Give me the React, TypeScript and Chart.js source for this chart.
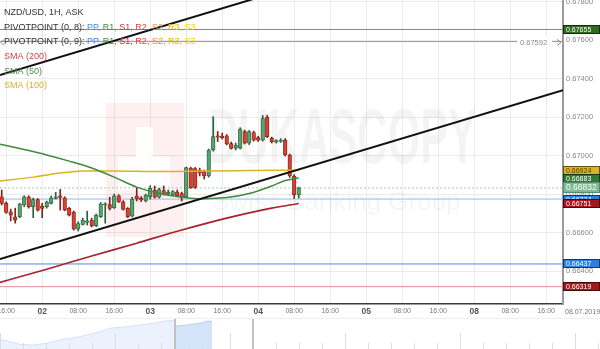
import React, { useEffect, useRef } from "react";
import { Chart, registerables } from "chart.js";

Chart.register(...registerables);

const FONT = "'Liberation Sans', Arial, sans-serif";

// NZD/USD 1H ASK. Hour index counted from 01.07.2019 00:00 (weekend removed)
const FIRST_HOUR = 15;
const OPEN = [0.66786,0.66752,0.66708,0.66682,0.66682,0.66743,0.66786,0.66734,0.66772,0.66738,
0.66734,0.66752,0.66777,0.66791,0.66781,0.66726,0.66707,0.66618,0.66642,0.66653,
0.66665,0.66635,0.66682,0.66743,0.66745,0.66729,0.66791,0.66760,0.66726,0.66686,
0.66790,0.66781,0.66764,0.66786,0.66821,0.66784,0.66818,0.66800,0.66797,0.66810,
0.66803,0.66786,0.66935,0.66933,0.66925,0.66916,0.66894,0.67029,0.67103,0.67101,
0.67103,0.67062,0.67039,0.67039,0.67124,0.67064,0.67120,0.67093,0.67080,0.67200,
0.67089,0.67070,0.67073,0.67080,0.67003,0.66894,0.66795];
const HIGH = [0.66821,0.66760,0.66722,0.66727,0.66752,0.66791,0.66791,0.66779,0.66777,0.66752,
0.66764,0.66790,0.66809,0.66824,0.66786,0.66731,0.66712,0.66656,0.66675,0.66711,
0.66675,0.66696,0.66756,0.66755,0.66784,0.66800,0.66797,0.66766,0.66730,0.66784,
0.66834,0.66787,0.66800,0.66844,0.66842,0.66831,0.66842,0.66821,0.66818,0.66821,
0.66810,0.66940,0.66940,0.66938,0.66935,0.66925,0.67034,0.67202,0.67125,0.67117,
0.67109,0.67070,0.67065,0.67145,0.67132,0.67130,0.67127,0.67101,0.67208,0.67210,
0.67096,0.67083,0.67088,0.67088,0.67008,0.66901,0.66836];
const LOW = [0.66743,0.66700,0.66660,0.66649,0.66677,0.66734,0.66727,0.66677,0.66711,0.66677,
0.66727,0.66748,0.66774,0.66717,0.66713,0.66686,0.66613,0.66608,0.66639,0.66639,
0.66629,0.66631,0.66678,0.66649,0.66717,0.66725,0.66756,0.66717,0.66678,0.66681,
0.66764,0.66761,0.66759,0.66774,0.66779,0.66779,0.66795,0.66795,0.66792,0.66787,
0.66764,0.66782,0.66829,0.66829,0.66894,0.66878,0.66888,0.67023,0.67073,0.67086,
0.67055,0.67034,0.67029,0.67034,0.67060,0.67057,0.67075,0.67073,0.67075,0.67093,
0.67065,0.67065,0.67068,0.66997,0.66886,0.66777,0.66779];
const CLOSE = [0.66752,0.66705,0.66691,0.66665,0.66748,0.66786,0.66734,0.66772,0.66717,0.66726,
0.66757,0.66781,0.66786,0.66783,0.66717,0.66691,0.66618,0.66647,0.66665,0.66661,
0.66635,0.66691,0.66749,0.66749,0.66725,0.66791,0.66760,0.66720,0.66682,0.66774,
0.66776,0.66769,0.66795,0.66830,0.66784,0.66823,0.66798,0.66810,0.66813,0.66791,
0.66781,0.66937,0.66833,0.66834,0.66909,0.66894,0.67029,0.67098,0.67096,0.67093,
0.67060,0.67037,0.67055,0.67138,0.67064,0.67124,0.67080,0.67080,0.67192,0.67098,
0.67072,0.67078,0.67080,0.67003,0.66894,0.66795,0.66832];

// moving averages (hour index, value)
const SMA50_T = [14, 20, 25, 30, 35, 40, 45, 50, 55, 60, 65, 70, 75, 78, 81];
const SMA50 = [0.67062,0.67031,0.67003,0.66971,0.66935,0.66888,0.66836,0.66803,0.66784,0.66776,0.66782,0.66803,0.66842,0.66870,0.66883];
const SMA100_T = [14, 22, 28, 33, 40, 50, 60, 70, 81];
const SMA100 = [0.66866,0.66888,0.66909,0.66920,0.66920,0.66917,0.66920,0.66922,0.66924];
const SMA200_T = [14, 25, 35, 45, 55, 65, 75, 81];
const SMA200 = [0.66337,0.66410,0.66478,0.66545,0.66613,0.66675,0.66727,0.66751];

// trend channel
const TREND_LOWER_T = [14.62, 139.73];
const TREND_LOWER = [0.66462, 0.67339];
const TREND_UPPER_T = [14.62, 81.3];
const TREND_UPPER = [0.67418, 0.67886];

// horizontal levels
const LEVELS = [0.67655, 0.67592, 0.66832, 0.66774, 0.66437, 0.66319];
const LEVEL_COLORS = ["#5ea544", "#9a9a9a", "#9fd2ac", "#93b8f4", "#4f8ae0", "#e28c8c"];
const CURRENT_PRICE = 0.66832;
const MARKED_LEVEL = 0.67592;

// right-axis tags
const TAG_VALUES = [0.67655, 0.66924, 0.66883, 0.66774, 0.66751, 0.66832, 0.66437, 0.66319];
const TAG_BG = ["#2f6b1f", "#d9b526", "#2e7b34", "#2e7de0", "#a3171d", "#7dba93", "#2e7de0", "#a3171d"];
const TAG_FG = ["#ffffff", "#4a3b00", "#ffffff", "#ffffff", "#ffffff", "#ffffff", "#ffffff", "#ffffff"];

const Y_TICKS = [0.664, 0.666, 0.668, 0.67, 0.672, 0.674, 0.676, 0.678];
const X_TICKS = [16, 24, 32, 40, 48, 56, 64, 72, 80, 88, 96, 104, 112, 120, 128, 136];
const X_LABELS = ["16:00", "02", "08:00", "16:00", "03", "08:00", "16:00", "04", "08:00", "16:00", "05", "08:00", "16:00", "08", "08:00", "16:00"];
const DATE_LABEL = "08.07.2019";

const X_MIN = 14.62;
const X_MAX = 139.73;
const Y_MIN = 0.66229;
const Y_MAX = 0.67808;

// navigator
const NAV_T = [0, 10, 20, 33, 47, 60, 80, 100, 110, 133, 153, 167, 174];
const NAV_LEVEL = [9.7, 7.3, 4.7, 4, 5.7, 9, 12.3, 17.3, 20.7, 23, 25.7, 28.3, 28.3];
const NAV_SEL_T = [176, 187, 200, 208, 212];
const NAV_SEL_LEVEL = [23, 24, 25.7, 28, 27.3];
const NAV_HANDLES = [175, 253];

const LEGEND_ROWS: { t: string; c: string }[][] = [
  [{ t: "NZD/USD, 1H, ASK", c: "#333" }],
  [
    { t: "PIVOTPOINT (0, 8): ", c: "#333" },
    { t: "PP, ", c: "#3d8af7" }, { t: "R1, ", c: "#3f8f3f" }, { t: "S1, ", c: "#c2343a" },
    { t: "R2, ", c: "#e8403a" }, { t: "S2, ", c: "#f08a2c" }, { t: "R3, ", c: "#e8b70e" }, { t: "S3", c: "#f2d600" },
  ],
  [
    { t: "PIVOTPOINT (0, 9): ", c: "#333" },
    { t: "PP, ", c: "#3d8af7" }, { t: "R1, ", c: "#3f8f3f" }, { t: "S1, ", c: "#c2343a" },
    { t: "R2, ", c: "#e8403a" }, { t: "S2, ", c: "#f08a2c" }, { t: "R3, ", c: "#e8b70e" }, { t: "S3", c: "#f2d600" },
  ],
  [{ t: "SMA (200)", c: "#c44a4f" }],
  [{ t: "SMA (50)", c: "#4b8b48" }],
  [{ t: "SMA (100)", c: "#d7b227" }],
];

const pts = (t: number[], v: number[]) => t.map((x, i) => ({ x, y: v[i] }));

const watermarkPlugin = {
  id: "watermark",
  beforeDatasetsDraw(chart: any) {
    const ctx = chart.ctx;
    ctx.save();
    ctx.fillStyle = "rgba(235,60,60,0.075)";
    ctx.fillRect(106, 103, 78, 134);
    ctx.fillStyle = "rgba(255,255,255,0.9)";
    ctx.fillRect(118, 157, 52, 33);
    ctx.fillRect(136, 127, 17, 30);
    ctx.fillStyle = "rgba(0,0,0,0.045)";
    ctx.font = `bold 42px ${FONT}`;
    ctx.textBaseline = "alphabetic";
    ctx.textAlign = "left";
    ctx.save();
    ctx.translate(208, 163);
    ctx.scale(1, 1.85);
    ctx.fillText("DUKASCOPY", 0, 0);
    ctx.restore();
    ctx.fillStyle = "rgba(0,0,0,0.04)";
    ctx.font = `26px ${FONT}`;
    ctx.fillText("Swiss Banking Group", 212, 210);
    ctx.restore();
  },
};

const overlayPlugin = {
  id: "overlay",
  afterDraw(chart: any) {
    const ctx = chart.ctx;
    const ys = chart.scales.y;
    const area = chart.chartArea;
    ctx.save();
    // marked level label
    const my = Math.round(ys.getPixelForValue(MARKED_LEVEL));
    ctx.fillStyle = "#ffffff";
    ctx.fillRect(517, my - 5, 35, 10);
    ctx.fillStyle = "#888";
    ctx.font = `7.5px ${FONT}`;
    ctx.textBaseline = "middle";
    ctx.textAlign = "left";
    ctx.fillText(MARKED_LEVEL.toFixed(5), 520, my + 0.5);
    ctx.strokeStyle = "#888";
    ctx.lineWidth = 1;
    ctx.beginPath();
    ctx.moveTo(557, my - 2.5); ctx.lineTo(561, my + 0.5); ctx.lineTo(557, my + 3.5);
    ctx.moveTo(4, my - 2.5); ctx.lineTo(1, my + 0.5); ctx.lineTo(4, my + 3.5);
    ctx.stroke();

    // legend
    ctx.font = `9px ${FONT}`;
    LEGEND_ROWS.forEach((row, r) => {
      let x = 4;
      const y = 12.5 + r * 14.7;
      row.forEach((seg) => {
        ctx.fillStyle = seg.c;
        ctx.fillText(seg.t, x, y);
        x += ctx.measureText(seg.t).width;
      });
    });

    // axis tags
    const w = chart.width - area.right;
    TAG_VALUES.forEach((v, i) => {
      const py = ys.getPixelForValue(v);
      const big = v === CURRENT_PRICE;
      const h = big ? 11 : 9;
      const top = Math.round(py - h / 2);
      ctx.fillStyle = TAG_BG[i];
      ctx.fillRect(area.right, top, w, h);
      ctx.strokeStyle = big ? "rgba(60,110,80,0.6)" : "rgba(0,0,0,0.55)";
      ctx.lineWidth = 1;
      ctx.strokeRect(area.right + 0.5, top + 0.5, w - 1, h - 1);
      ctx.fillStyle = TAG_FG[i];
      ctx.font = big ? `8.5px ${FONT}` : `7px ${FONT}`;
      ctx.fillText(v.toFixed(5), area.right + 3, top + h / 2 + 0.5);
    });

    // date label under the price axis
    ctx.fillStyle = "#777";
    ctx.font = `7px ${FONT}`;
    ctx.fillText(DATE_LABEL, area.right + 2, area.bottom + 8.5);
    ctx.restore();
  },
};

const navPlugin = {
  id: "navdeco",
  afterDatasetsDraw(chart: any) {
    const ctx = chart.ctx;
    const xs = chart.scales.x;
    const h = chart.height;
    ctx.save();
    ctx.strokeStyle = "#efefef";
    ctx.lineWidth = 1;
    ctx.beginPath();
    ctx.moveTo(0, 0.5);
    ctx.lineTo(chart.width, 0.5);
    ctx.stroke();
    ctx.strokeStyle = "#dedede";
    for (let i = 0; i * 23 <= 600; i++) {
      const px = Math.round(xs.getPixelForValue(i * 23)) + 0.5;
      const len = i % 5 === 0 ? 16 : 6;
      ctx.beginPath();
      ctx.moveTo(px, h);
      ctx.lineTo(px, h - len);
      ctx.stroke();
    }
    ctx.strokeStyle = "#c2c2c2";
    ctx.lineWidth = 2;
    NAV_HANDLES.forEach((t) => {
      const px = xs.getPixelForValue(t);
      ctx.beginPath();
      ctx.moveTo(px, 1);
      ctx.lineTo(px, h);
      ctx.stroke();
    });
    ctx.restore();
  },
};

export default function App() {
  const mainRef = useRef<HTMLCanvasElement | null>(null);
  const navRef = useRef<HTMLCanvasElement | null>(null);

  useEffect(() => {
    const idx = OPEN.map((_, i) => FIRST_HOUR + i);
    const up = OPEN.map((o, i) => CLOSE[i] >= o);
    const bodyFill = up.map((u) => (u ? "#55a46c" : "#d8402f"));
    const bodyEdge = up.map((u) => (u ? "#2c5f3e" : "#7e221b"));

    const levelSets = LEVELS.map((v, i) => ({
      type: "line",
      data: [{ x: X_MIN, y: v }, { x: X_MAX, y: v }],
      borderColor: LEVEL_COLORS[i],
      borderWidth: 1,
      borderDash: v === CURRENT_PRICE ? [2, 2] : [],
      pointRadius: 0,
      order: 20,
    }));

    const mainChart = new Chart(mainRef.current as HTMLCanvasElement, {
      type: "bar",
      data: {
        datasets: [
          ...levelSets,
          {
            type: "bar",
            data: idx.map((x, i) => ({ x, y: [LOW[i], HIGH[i]] })),
            backgroundColor: bodyEdge,
            barThickness: 1,
            grouped: false,
            order: 12,
          },
          {
            type: "bar",
            data: idx.map((x, i) => ({ x, y: [OPEN[i], CLOSE[i]] })),
            backgroundColor: bodyFill,
            borderColor: bodyEdge,
            borderWidth: 0.8,
            borderSkipped: false,
            barThickness: 3.6,
            minBarLength: 1,
            grouped: false,
            order: 11,
          },
          {
            type: "line",
            data: pts(SMA200_T, SMA200),
            borderColor: "#a5232b",
            borderWidth: 1.6,
            pointRadius: 0,
            cubicInterpolationMode: "monotone",
            order: 5,
          },
          {
            type: "line",
            data: pts(SMA100_T, SMA100),
            borderColor: "#d9b51c",
            borderWidth: 1.5,
            pointRadius: 0,
            cubicInterpolationMode: "monotone",
            order: 4,
          },
          {
            type: "line",
            data: pts(SMA50_T, SMA50),
            borderColor: "#3d8a40",
            borderWidth: 1.5,
            pointRadius: 0,
            cubicInterpolationMode: "monotone",
            order: 3,
          },
          {
            type: "line",
            data: pts(TREND_LOWER_T, TREND_LOWER),
            borderColor: "#111111",
            borderWidth: 2,
            pointRadius: 0,
            order: 1,
          },
          {
            type: "line",
            data: pts(TREND_UPPER_T, TREND_UPPER),
            borderColor: "#111111",
            borderWidth: 2,
            pointRadius: 0,
            order: 1,
          },
        ] as any,
      },
      options: {
        responsive: false,
        animation: false,
        events: [],
        layout: { padding: 0 },
        plugins: { legend: { display: false }, tooltip: { enabled: false } },
        scales: {
          x: {
            type: "linear",
            min: X_MIN,
            max: X_MAX,
            offset: false,
            afterBuildTicks: (s: any) => {
              s.ticks = X_TICKS.map((v) => ({ value: v }));
            },
            afterFit: (s: any) => {
              s.height = 14;
              s.paddingLeft = 0;
              s.paddingRight = 0;
            },
            ticks: {
              autoSkip: false,
              maxRotation: 0,
              padding: 3,
              color: (c: any) => (X_LABELS[X_TICKS.indexOf(c.tick?.value)]?.length === 2 ? "#555" : "#7a7a7a"),
              font: (c: any) =>
                X_LABELS[X_TICKS.indexOf(c.tick?.value)]?.length === 2
                  ? { family: FONT, size: 8.5, weight: "bold" }
                  : { family: FONT, size: 7 },
              callback: (v: any) => X_LABELS[X_TICKS.indexOf(v)] ?? "",
            },
            grid: { color: "#ebebeb", drawTicks: false, offset: false },
            border: { color: "#3a3a3a", width: 1.5 },
          },
          y: {
            position: "right",
            min: Y_MIN,
            max: Y_MAX,
            afterBuildTicks: (s: any) => {
              s.ticks = Y_TICKS.map((v) => ({ value: v }));
            },
            afterFit: (s: any) => {
              s.width = 37;
              s.paddingTop = 0;
              s.paddingBottom = 0;
            },
            ticks: {
              padding: 3,
              color: "#8a8a8a",
              font: { family: FONT, size: 7.5 },
              callback: (v: any) => Number(v).toFixed(5),
            },
            grid: { color: "#ebebeb", drawTicks: false },
            border: { color: "#9a9a9a", width: 2 },
          },
        },
      } as any,
      plugins: [watermarkPlugin, overlayPlugin],
    });

    const navChart = new Chart(navRef.current as HTMLCanvasElement, {
      type: "line",
      data: {
        datasets: [
          {
            data: pts(NAV_T, NAV_LEVEL),
            borderColor: "#d3e2f8",
            backgroundColor: "#ebf2fd",
            borderWidth: 1,
            fill: "origin",
            pointRadius: 0,
          },
          {
            data: pts(NAV_SEL_T, NAV_SEL_LEVEL),
            borderColor: "#b9d0f3",
            backgroundColor: "#d3e3f8",
            borderWidth: 1,
            fill: "origin",
            pointRadius: 0,
          },
        ],
      },
      options: {
        responsive: false,
        animation: false,
        events: [],
        layout: { padding: 0 },
        plugins: { legend: { display: false }, tooltip: { enabled: false } },
        scales: {
          x: { type: "linear", min: 0, max: 600, display: false },
          y: { min: 0, max: 31, display: false },
        },
      } as any,
      plugins: [navPlugin],
    });

    return () => {
      mainChart.destroy();
      navChart.destroy();
    };
  }, []);

  return (
    <div style={{ position: "absolute", left: 0, top: 0, width: 600, height: 349, background: "#fff", overflow: "hidden" }}>
      <canvas ref={mainRef} width={600} height={318} style={{ position: "absolute", left: 0, top: 0, width: 600, height: 318 }} />
      <canvas ref={navRef} width={600} height={31} style={{ position: "absolute", left: 0, top: 318, width: 600, height: 31 }} />
    </div>
  );
}
